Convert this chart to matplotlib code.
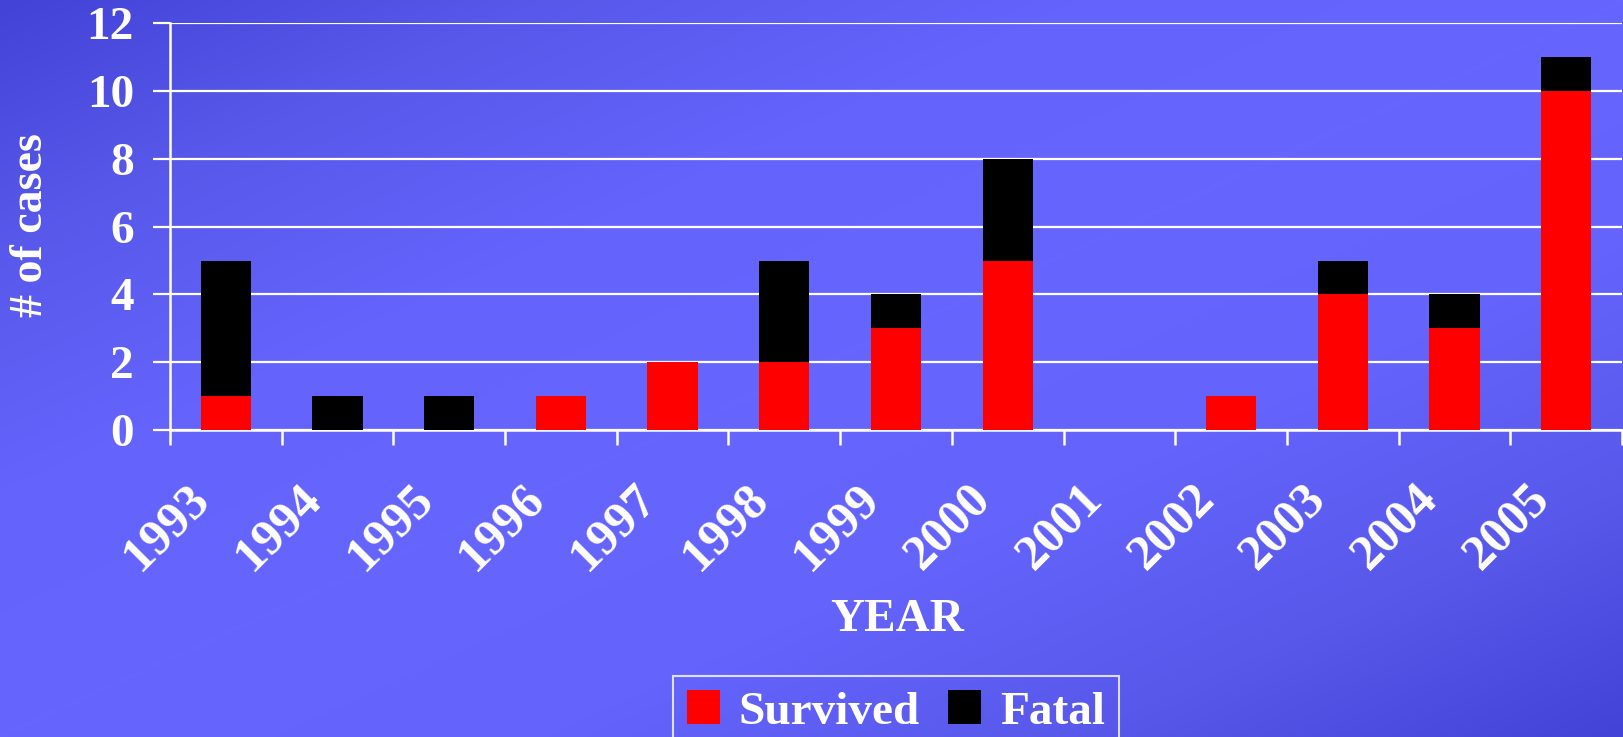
import numpy as np
import matplotlib
matplotlib.use("Agg")
import matplotlib.pyplot as plt
from matplotlib.colors import LinearSegmentedColormap
from matplotlib.transforms import ScaledTranslation

years = ['1993', '1994', '1995', '1996', '1997', '1998', '1999',
         '2000', '2001', '2002', '2003', '2004', '2005']
survived = [1, 0, 0, 1, 2, 2, 3, 5, 0, 1, 4, 3, 10]
fatal = [4, 1, 1, 0, 0, 3, 1, 3, 0, 0, 1, 1, 1]

plt.rcParams['font.family'] = ['Liberation Serif', 'DejaVu Serif']
plt.rcParams['font.weight'] = 'bold'

fig = plt.figure(figsize=(16.23, 7.37), dpi=100)

# gradient background, dark in top-left / bottom-right corners
bg = fig.add_axes([0, 0, 1, 1], zorder=-10)
gx, gy = np.meshgrid(np.linspace(0, 1, 400), np.linspace(0, 1, 200))
t = np.abs((gx + gy) / 2 - 0.5) * 2
cmap = LinearSegmentedColormap.from_list('bgc', ['#6666ff', '#6464fd', '#5858ea', '#4343d8'])
bg.imshow(t, cmap=cmap, aspect='auto', extent=[0, 1, 0, 1], vmin=0, vmax=1)
bg.axis('off')

ax = fig.add_axes([170 / 1623, 1 - 430 / 737, (1622 - 170) / 1623, (430 - 23.3) / 737])
ax.patch.set_alpha(0)

x = np.arange(len(years))
ax.bar(x, survived, width=0.45, color='#ff0000', label='Survived', zorder=3)
ax.bar(x, fatal, width=0.45, bottom=survived, color='#000000', label='Fatal', zorder=3)

ax.set_ylim(0, 12)
ax.set_xlim(-0.5, len(years) - 0.5)
ax.set_yticks(range(0, 13, 2))
ax.grid(axis='y', color='white', lw=1.6, zorder=1)
ax.set_axisbelow(True)

for s in ['top', 'right']:
    ax.spines[s].set_visible(False)
for s in ['left', 'bottom']:
    ax.spines[s].set_color('white')
    ax.spines[s].set_linewidth(1.8)

ax.tick_params(axis='y', colors='white', length=12, width=1.6, pad=14, labelsize=34)
ax.set_xticks(x)
ax.set_xticks(np.arange(-0.5, len(years), 1), minor=True)
ax.tick_params(axis='x', which='minor', length=11, width=1.8, color='white')
ax.tick_params(axis='x', which='major', length=0, pad=33, labelsize=36, labelcolor='white')
ax.set_xticklabels(years, rotation=45, ha='right', va='top', rotation_mode='anchor')
for lab in ax.get_xticklabels():
    lab.set_transform(lab.get_transform() + ScaledTranslation(-0.40, 0, fig.dpi_scale_trans))

fig.text(31 / 1623, 1 - 225 / 737, '# of cases', rotation=90, ha='center', va='center',
         color='white', fontsize=33, fontweight='bold')
fig.text(897 / 1623, 1 - 620 / 737, 'YEAR', ha='center', va='center',
         color='white', fontsize=34, fontweight='bold')

leg = fig.legend(loc='center', bbox_to_anchor=(896 / 1623, 1 - 712 / 737), ncol=2,
                 frameon=True, fontsize=34, handlelength=0.7, handleheight=0.7,
                 handletextpad=0.4, columnspacing=0.6, borderpad=0.3, fancybox=False)
leg.get_frame().set_facecolor('none')
leg.get_frame().set_edgecolor('white')
leg.get_frame().set_linewidth(1.5)
for txt in leg.get_texts():
    txt.set_color('white')

fig.savefig('out.png', dpi=100)
